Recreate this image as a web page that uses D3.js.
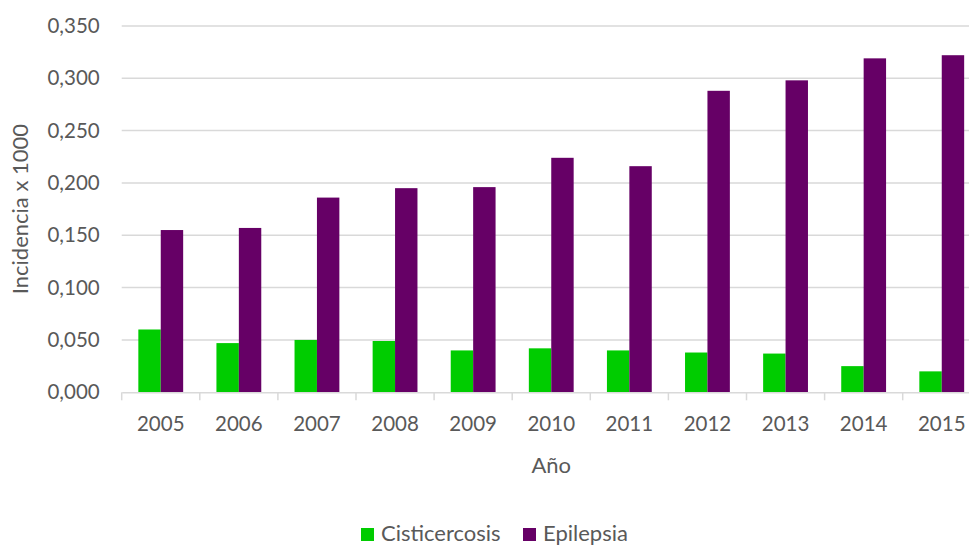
<!DOCTYPE html>
<html>
<head>
<meta charset="utf-8">
<script src="https://cdn.jsdelivr.net/npm/d3@7"></script>
<style>
  html, body { margin: 0; padding: 0; background: #fff; }
  svg { display: block; overflow: hidden; }
  text { font-family: Lato, "Open Sans", sans-serif; fill: #595959; }
</style>
</head>
<body>
<svg id="chart" width="969" height="545"></svg>
<script>
// Incidencia anual por 1000 habitantes
const years = ["2005","2006","2007","2008","2009","2010","2011","2012","2013","2014","2015"];
const cisticercosis = [0.060, 0.047, 0.050, 0.049, 0.040, 0.042, 0.040, 0.038, 0.037, 0.025, 0.020];
const epilepsia = [0.155, 0.157, 0.186, 0.195, 0.196, 0.224, 0.216, 0.288, 0.298, 0.319, 0.322];
const seriesNames = ["Cisticercosis", "Epilepsia"];
const seriesColors = ["#00cc00", "#660066"];
const yTicks = [0, 0.05, 0.1, 0.15, 0.2, 0.25, 0.3, 0.35];

const svg = d3.select("#chart");
const plotLeft = 121.7, plotRight = 980.8, plotTop = 25.9, plotBottom = 392.3;

const x = d3.scaleBand().domain(years).range([plotLeft, plotRight]).paddingInner(0).paddingOuter(0);
const barW = x.bandwidth() * 0.287;
const xs = d3.scaleBand().domain(seriesNames).range([0, barW * 2]);
const groupOffset = (x.bandwidth() - barW * 2) / 2;

const y = d3.scaleLinear().domain([0, 0.35]).range([plotBottom, plotTop]);
const fmt = v => d3.format(".3f")(v).replace(".", ",");

// horizontal gridlines
svg.append("g")
  .selectAll("line")
  .data(yTicks.filter(d => d > 0))
  .join("line")
  .attr("x1", plotLeft).attr("x2", 969)
  .attr("y1", d => y(d)).attr("y2", d => y(d))
  .attr("stroke", "#d9d9d9").attr("stroke-width", 1.5);

// y-axis labels
const yAxis = d3.axisLeft(y).tickValues(yTicks).tickFormat(fmt).tickSize(0).tickPadding(0);
const gy = svg.append("g").attr("transform", `translate(${plotLeft - 22},0)`).call(yAxis);
gy.select(".domain").remove();
gy.selectAll("text").style("font-size", "20.5px").attr("font-family", null).attr("fill", "#595959");

// bars
const rows = years.map((yr, i) => ({ year: yr, values: [cisticercosis[i], epilepsia[i]] }));
const groups = svg.append("g").selectAll("g")
  .data(rows).join("g")
  .attr("transform", d => `translate(${x(d.year) + groupOffset},0)`);
groups.selectAll("rect")
  .data(d => d.values.map((v, j) => ({ key: seriesNames[j], value: v, color: seriesColors[j] })))
  .join("rect")
  .attr("x", d => xs(d.key))
  .attr("width", xs.bandwidth())
  .attr("y", d => y(d.value))
  .attr("height", d => plotBottom - y(d.value))
  .attr("fill", d => d.color);

// x axis
const xAxis = d3.axisBottom(x).tickSize(0).tickPadding(0);
const gx = svg.append("g").attr("transform", `translate(0,${plotBottom})`).call(xAxis);
gx.select(".domain").attr("stroke", "#d9d9d9").attr("stroke-width", 1.5);
gx.selectAll("text").attr("dy", null).attr("y", 39).style("font-size", "20.5px")
  .attr("font-family", null).attr("fill", "#595959");
// category separators
svg.append("g").selectAll("line")
  .data(years.concat(["end"]))
  .join("line")
  .attr("x1", (d, i) => plotLeft + i * x.step()).attr("x2", (d, i) => plotLeft + i * x.step())
  .attr("y1", plotBottom).attr("y2", plotBottom + 8)
  .attr("stroke", "#d9d9d9").attr("stroke-width", 1.5);

// axis titles
svg.append("text")
  .attr("x", (plotLeft + plotRight) / 2).attr("y", 473)
  .attr("text-anchor", "middle").style("font-size", "22px")
  .text("Año");
svg.append("text")
  .attr("transform", `translate(28,${(plotTop + plotBottom) / 2}) rotate(-90)`)
  .attr("text-anchor", "middle").style("font-size", "22px")
  .text("Incidencia x 1000");

// legend
const legendX = [361, 523];
const lg = svg.append("g").selectAll("g")
  .data(seriesNames.map((n, i) => ({ name: n, color: seriesColors[i], x: legendX[i] })))
  .join("g")
  .attr("transform", d => `translate(${d.x},528)`);
lg.append("rect").attr("width", 13).attr("height", 13).attr("fill", d => d.color);
lg.append("text").attr("x", 20).attr("y", 13).style("font-size", "22px").text(d => d.name);
</script>
</body>
</html>
